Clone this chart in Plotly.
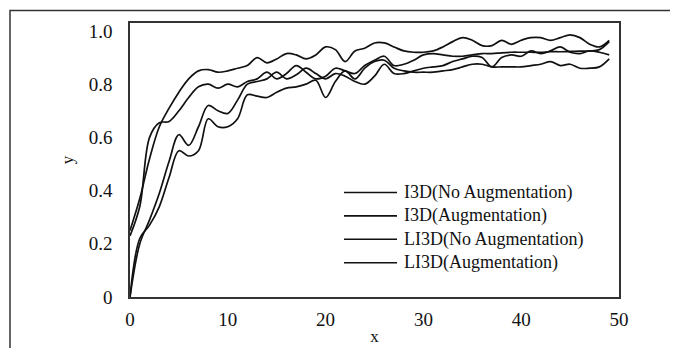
import plotly.graph_objects as go

# ---------------- data ----------------
epochs = list(range(50))

series_names = [
    "I3D(No Augmentation)",
    "I3D(Augmentation)",
    "LI3D(No Augmentation)",
    "LI3D(Augmentation)",
]

i3d_no_aug = [0.0, 0.22, 0.27, 0.34, 0.45, 0.55, 0.53, 0.55, 0.67, 0.64,
              0.64, 0.67, 0.76, 0.755, 0.75, 0.77, 0.785, 0.79, 0.80, 0.815,
              0.75, 0.81, 0.85, 0.82, 0.86, 0.885, 0.89, 0.86, 0.85, 0.845,
              0.845, 0.845, 0.85, 0.855, 0.865, 0.875, 0.875, 0.865, 0.865, 0.865,
              0.865, 0.87, 0.875, 0.885, 0.87, 0.875, 0.86, 0.86, 0.865, 0.895]

i3d_aug = [0.0, 0.20, 0.29, 0.39, 0.51, 0.61, 0.57, 0.64, 0.72, 0.70,
           0.69, 0.74, 0.80, 0.81, 0.82, 0.845, 0.82, 0.835, 0.86, 0.84,
           0.82, 0.84, 0.83, 0.81, 0.80, 0.83, 0.875, 0.84, 0.84, 0.85,
           0.86, 0.865, 0.87, 0.885, 0.895, 0.905, 0.90, 0.865, 0.90, 0.91,
           0.905, 0.925, 0.915, 0.925, 0.94, 0.92, 0.915, 0.925, 0.92, 0.91]

li3d_no_aug = [0.23, 0.34, 0.60, 0.655, 0.66, 0.70, 0.75, 0.79, 0.80, 0.785,
               0.80, 0.79, 0.81, 0.82, 0.845, 0.82, 0.84, 0.87, 0.845, 0.82,
               0.83, 0.86, 0.85, 0.84, 0.87, 0.89, 0.905, 0.87, 0.875, 0.89,
               0.91, 0.915, 0.91, 0.905, 0.905, 0.91, 0.915, 0.915, 0.918, 0.92,
               0.92, 0.92, 0.92, 0.922, 0.922, 0.923, 0.924, 0.925, 0.93, 0.96]

li3d_aug = [0.25, 0.37, 0.52, 0.64, 0.71, 0.77, 0.82, 0.85, 0.855, 0.845,
            0.85, 0.86, 0.87, 0.90, 0.88, 0.895, 0.915, 0.91, 0.895, 0.91,
            0.94, 0.93, 0.885, 0.925, 0.935, 0.955, 0.955, 0.94, 0.925, 0.92,
            0.92, 0.925, 0.94, 0.96, 0.975, 0.965, 0.945, 0.945, 0.965, 0.95,
            0.965, 0.975, 0.975, 0.965, 0.975, 0.985, 0.975, 0.95, 0.94, 0.965]

all_series = [i3d_no_aug, i3d_aug, li3d_no_aug, li3d_aug]

x_tick_vals = [0, 10, 20, 30, 40, 50]
x_tick_text = ["0", "10", "20", "30", "40", "50"]
y_tick_vals = [0, 0.2, 0.4, 0.6, 0.8, 1.0]
y_tick_text = ["0", "0.2", "0.4", "0.6", "0.8", "1.0"]

# ---------------- layout geometry (pixels, page coordinates) ----------------
W, H = 678, 348
OFF = 8  # the page body offsets the figure by its default margin
L, R, T, B = 130 - OFF, 619 - OFF, 23 - OFF, 297 - OFF
FONT = "Liberation Serif, Times New Roman, serif"


def px_to_paper_x(px):
    return (px - OFF - L) / (R - L)


def px_to_paper_y(py):
    return (B - (py - OFF)) / (B - T)


fig = go.Figure()
for name, vals in zip(series_names, all_series):
    fig.add_trace(go.Scatter(
        x=epochs, y=vals, mode="lines", name=name,
        line=dict(color="#111111", width=1.7, shape="spline", smoothing=1.0),
        showlegend=False,
    ))

shapes = []
annotations = []

# outer frame (only top and left edges visible in the picture)
shapes.append(dict(type="rect", xref="paper", yref="paper",
                   x0=px_to_paper_x(10), x1=px_to_paper_x(720),
                   y0=px_to_paper_y(380), y1=px_to_paper_y(10.5),
                   line=dict(color="#333333", width=1.5), layer="below"))

# manual legend
leg_y0 = 192.5
leg_dy = 23.4
for i, name in enumerate(series_names):
    yy = px_to_paper_y(leg_y0 + i * leg_dy)
    shapes.append(dict(type="line", xref="paper", yref="paper",
                       x0=px_to_paper_x(344), x1=px_to_paper_x(397),
                       y0=yy, y1=yy, line=dict(color="#111111", width=1.6)))
    annotations.append(dict(xref="paper", yref="paper",
                            x=px_to_paper_x(402), y=yy, text=name,
                            showarrow=False, xanchor="left", yanchor="middle",
                            font=dict(family=FONT, size=18, color="#111111")))

fig.update_layout(
    width=W, height=H,
    margin=dict(l=L, r=W - R, t=T, b=H - B, pad=0, autoexpand=False),
    paper_bgcolor="white", plot_bgcolor="white",
    font=dict(family=FONT, size=18, color="#111111"),
    shapes=shapes, annotations=annotations,
    showlegend=False,
)
fig.update_xaxes(
    range=[0, 50], tickvals=x_tick_vals, ticktext=x_tick_text,
    showline=True, linecolor="#333333", linewidth=1.5, mirror=True,
    showgrid=False, zeroline=False, ticks="", ticklabelstandoff=4,
    tickfont=dict(family=FONT, size=19), automargin=False,
    title=dict(text="x", font=dict(family=FONT, size=17), standoff=2),
)
fig.update_yaxes(
    range=[0, 1.03], tickvals=y_tick_vals, ticktext=y_tick_text,
    showline=True, linecolor="#333333", linewidth=1.5, mirror=True,
    showgrid=False, zeroline=False, ticks="", ticklabelstandoff=12,
    tickfont=dict(family=FONT, size=19), automargin=False,
    title=dict(text="y", font=dict(family=FONT, size=17), standoff=11),
)

fig.write_html("out.html")
